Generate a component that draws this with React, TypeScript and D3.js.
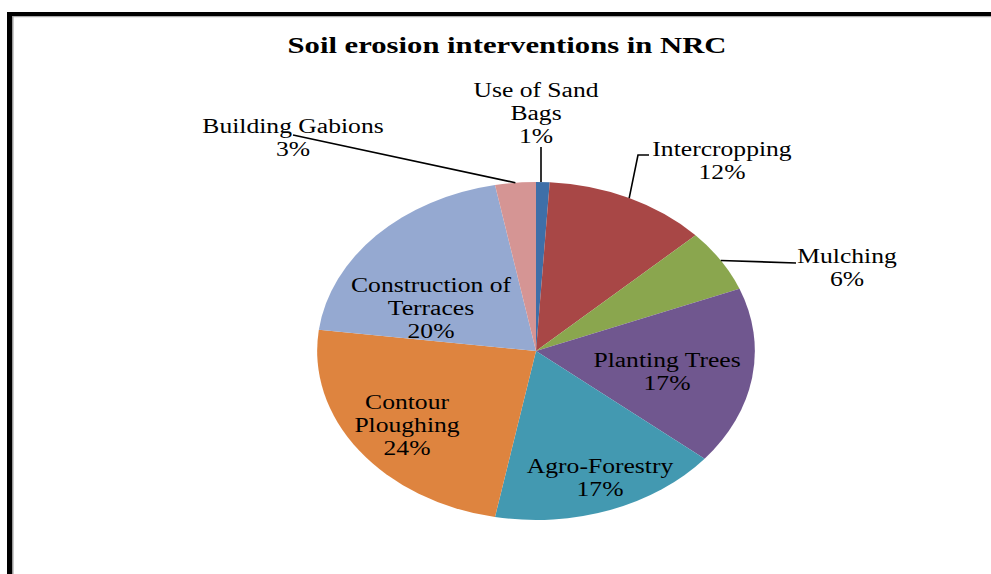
import React from "react";
import * as d3 from "d3";

const categories = [
  "Use of Sand Bags",
  "Intercropping",
  "Mulching",
  "Planting Trees",
  "Agro-Forestry",
  "Contour Ploughing",
  "Construction of Terraces",
  "Building Gabions",
];
const values = [1, 12, 6, 17, 17, 24, 20, 3];
const labelLines = [
  ["Use of Sand", "Bags"],
  ["Intercropping"],
  ["Mulching"],
  ["Planting Trees"],
  ["Agro-Forestry"],
  ["Contour", "Ploughing"],
  ["Construction of", "Terraces"],
  ["Building Gabions"],
];
const colors = [
  "#3E6FA8",
  "#A84746",
  "#8AA64E",
  "#70578F",
  "#4399B1",
  "#DE843F",
  "#95A9D1",
  "#D59594",
];

// layout (label anchor = baseline of first line, centred)
const labelPos: Record<number, { x: number; y: number; leader?: "vertical" | "elbow" | "straight"; lx?: number; ly?: number }> = {
  0: { x: 536, y: 97, leader: "vertical", lx: 541, ly: 147 },
  1: { x: 722, y: 156, leader: "elbow", lx: 649, ly: 155 },
  2: { x: 847, y: 263, leader: "straight", lx: 796, ly: 263 },
  3: { x: 667, y: 367 },
  4: { x: 600, y: 473 },
  5: { x: 407, y: 409 },
  6: { x: 431, y: 292 },
  7: { x: 293, y: 133, leader: "straight", lx: 293, ly: 135 },
};

const W = 991;
const H = 574;
const cx = 536;
const cy = 351;
const R = 169;
const SX = 1.295;
const LINE = 22.8;
const FONT = "'Liberation Serif', 'Times New Roman', serif";

export default function App() {
  const total = d3.sum(values);
  const pie = d3.pie<number>().sort(null).value((d) => d).startAngle(0).endAngle(2 * Math.PI);
  const arcs = pie(values);
  const arc = d3.arc<d3.PieArcDatum<number>>().innerRadius(0).outerRadius(R);

  const edge = (a: d3.PieArcDatum<number>) => {
    const m = (a.startAngle + a.endAngle) / 2;
    return [cx + SX * R * Math.sin(m), cy - R * Math.cos(m)];
  };

  return (
    <svg
      width={W}
      height={H}
      style={{ position: "absolute", left: 0, top: 0, background: "#fff" }}
      fontFamily={FONT}
    >
      {/* frame */}
      <rect x={7} y={12} width={W - 7} height={4} fill="#000" />
      <rect x={7} y={12} width={5} height={H - 12} fill="#000" />
      <rect x={12} y={16} width={W - 12} height={1.2} fill="#aaa" />
      <rect x={12} y={16} width={1.5} height={H - 16} fill="#999" />

      <text
        x={507}
        y={53}
        textAnchor="middle"
        fontSize={22.5}
        fontWeight="bold"
        textLength={439}
        lengthAdjust="spacingAndGlyphs"
      >
        Soil erosion interventions in NRC
      </text>

      <g transform={`translate(${cx},${cy}) scale(${SX},1)`}>
        {arcs.map((a, i) => (
          <path key={categories[i]} d={arc(a) || ""} fill={colors[i]} />
        ))}
      </g>

      {arcs.map((a, i) => {
        const p = labelPos[i];
        if (!p.leader) return null;
        const [ex, ey] = edge(a);
        let pts: number[][];
        if (p.leader === "vertical") pts = [[p.lx!, p.ly!], [p.lx!, ey]];
        else if (p.leader === "elbow") pts = [[p.lx!, p.ly!], [p.lx! - 11, p.ly!], [ex, ey]];
        else pts = [[p.lx!, p.ly!], [ex, ey]];
        return (
          <polyline
            key={"l" + i}
            points={pts.map((q) => q.join(",")).join(" ")}
            fill="none"
            stroke="#000"
            strokeWidth={1.6}
          />
        );
      })}

      {arcs.map((a, i) => {
        const p = labelPos[i];
        const lines = [...labelLines[i], `${Math.round((values[i] / total) * 100)}%`];
        return (
          <g key={"t" + i} transform={`translate(${p.x},${p.y}) scale(1.28,1)`}>
            {lines.map((ln, k) => (
              <text key={k} x={0} y={k * LINE} textAnchor="middle" fontSize={20} fill="#000">
                {ln}
              </text>
            ))}
          </g>
        );
      })}
    </svg>
  );
}
